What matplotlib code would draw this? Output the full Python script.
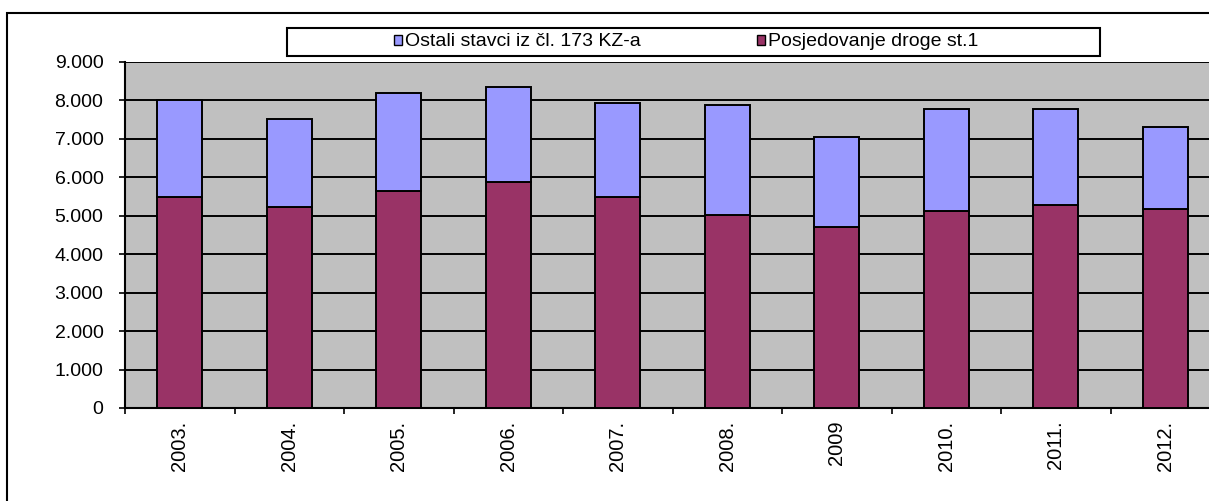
import numpy as np
import matplotlib
matplotlib.use("Agg")
import matplotlib.pyplot as plt
from matplotlib.patches import Rectangle, Patch
from matplotlib.ticker import FuncFormatter, FixedLocator

years = ['2003.', '2004.', '2005.', '2006.', '2007.', '2008.', '2009', '2010.', '2011.', '2012.']
posjedovanje = [5500, 5230, 5650, 5870, 5500, 5030, 4710, 5130, 5290, 5170]
ukupno = [8000, 7520, 8190, 8350, 7930, 7890, 7060, 7780, 7780, 7300]
ostali = [u - p for u, p in zip(ukupno, posjedovanje)]

label_ostali = 'Ostali stavci iz čl. 173 KZ-a'
label_posj = 'Posjedovanje droge st.1'

plt.rcParams['font.family'] = ['Liberation Sans', 'DejaVu Sans']

fig = plt.figure(figsize=(12.09, 5.01), dpi=100)
W, H = 1209, 501

# axes in pixel terms, right edge runs past the picture like the original
left, right, top, bottom = 125, 1220, 62, 408
ax = fig.add_axes([left / W, 1 - bottom / H, (right - left) / W, (bottom - top) / H])
ax.set_facecolor('#C0C0C0')

x = np.arange(len(years))
bw = 0.41
ax.bar(x, posjedovanje, width=bw, color='#993366', edgecolor='black', linewidth=1.4, zorder=3)
ax.bar(x, ostali, width=bw, bottom=posjedovanje, color='#9999FF', edgecolor='black', linewidth=1.4, zorder=3)

ax.set_xlim(-0.5, len(years) - 0.5)
ax.set_ylim(0, 9000)
ax.set_yticks(np.arange(0, 9001, 1000))
ax.yaxis.set_major_formatter(FuncFormatter(lambda v, p: '0' if v == 0 else '{:,.0f}'.format(v).replace(',', '.')))
ax.yaxis.grid(True, color='black', linewidth=1.4, zorder=1)

# category labels at centres, tick marks between categories
ax.xaxis.set_major_locator(FixedLocator(x))
ax.set_xticklabels(years, rotation=90, fontsize=14.5)
ax.tick_params(axis='x', which='major', length=0, pad=9)
ax.xaxis.set_minor_locator(FixedLocator(np.arange(-0.5, len(years), 1)))
ax.tick_params(axis='x', which='minor', length=4, width=1.2, direction='out')
ax.tick_params(axis='y', length=4.5, width=1.2, direction='out', labelsize=14, pad=11)

for s in ['top', 'right']:
    ax.spines[s].set_visible(False)
ax.spines['left'].set_linewidth(1.5)
ax.spines['bottom'].set_linewidth(1.5)

# outer chart border
fig.patches.append(Rectangle((7 / W, -0.2), 1.3, 0.2 + (1 - 13 / H),
                             transform=fig.transFigure, fill=False,
                             edgecolor='black', linewidth=1.5))

# legend box
fig.patches.append(Rectangle((287 / W, 1 - 56 / H), 813 / W, 28 / H,
                             transform=fig.transFigure, facecolor='white',
                             edgecolor='black', linewidth=1.5))
handles = [Patch(facecolor='#9999FF', edgecolor='black', linewidth=1),
           Patch(facecolor='#993366', edgecolor='black', linewidth=1)]
fig.legend(handles, [label_ostali, label_posj], loc='center',
           bbox_to_anchor=(686 / W, 1 - 42 / H), ncol=2, frameon=False,
           fontsize=14, handlelength=0.42, handleheight=0.42,
           handletextpad=0.12, columnspacing=6.0)

fig.savefig('out.png', dpi=100)
